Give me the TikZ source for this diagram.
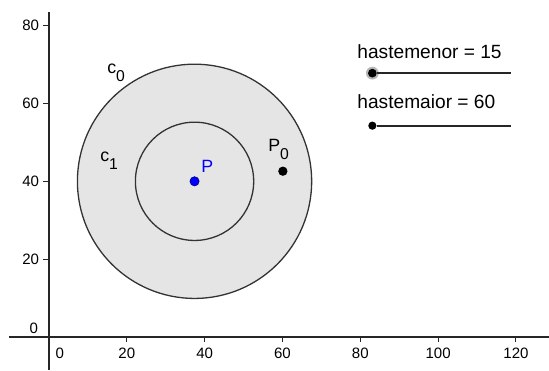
\documentclass[tikz,border=0pt]{standalone}
\usepackage{fontspec}
\setmainfont{Liberation Sans}
\usepackage{tikz}

\definecolor{diskfill}{HTML}{E5E5E5}
\definecolor{ptblue}{HTML}{0000FF}
\definecolor{linegray}{HTML}{333333}

% letter with a lowered index, as in c0, P0
\newcommand{\lblsub}[2]{#1\raisebox{-0.42em}{\fontsize{11.5}{12}\selectfont #2}}

\begin{document}
\begin{tikzpicture}[
  x=0.1cm, y=0.1cm,
  axis/.style={line width=0.9pt, black!85},
  tick/.style={line width=0.8pt, black!85},
  ticklbl/.style={font=\fontsize{11}{13}\selectfont, inner sep=0pt},
  circ/.style={draw=linegray, line width=0.95pt},
  dot/.style={circle, inner sep=0pt, minimum size=6.8pt},
  lbl/.style={font=\fontsize{13}{15}\selectfont, inner sep=0pt, anchor=base west},
  sliderlbl/.style={font=\fontsize{14}{16}\selectfont, inner sep=0pt, anchor=base west},
  slider/.style={line width=1.3pt, black!85}
]
\useasboundingbox (-12.6,-8.5) rectangle (128.5,86.6);

% axes
\draw[axis] (-10.3,0) -- (128.5,0);
\draw[axis] (0,83.5) -- (0,-8.5);
\foreach \x in {20,40,...,120} {
  \draw[tick] (\x,0) -- (\x,-1.2);
  \node[ticklbl, anchor=base] at (\x,-5.5) {\x};
}
\node[ticklbl, anchor=base] at (2.8,-5.5) {0};
\foreach \y in {20,40,60,80} {
  \draw[tick] (0,\y) -- (-1.5,\y);
  \node[ticklbl, anchor=east] at (-2.5,\y) {\y};
}
\node[ticklbl, anchor=east] at (-2.75,2.3) {0};

% circles c0 and c1
\coordinate (ctr) at (37.4,40);
\draw[circ, fill=diskfill] (ctr) circle (30.1);
\draw[circ] (ctr) circle (15.2);

% points
\node[dot, fill=ptblue, draw=blue!45!black, line width=0.4pt] (P) at (ctr) {};
\node[dot, fill=black] (P0) at (60.1,42.6) {};

% labels
\node[lbl] (lc0) at (14.9,67.6) {\lblsub{c}{0}};
\node[lbl] (lc1) at (13.1,45.0) {\lblsub{c}{1}};
\node[lbl, text=ptblue] (lP) at (39.1,42.2) {P};
\node[lbl] (lP0) at (56.3,47.6) {\lblsub{P}{0}};

% sliders
\node[sliderlbl] (tmenor) at (79.2,71.6) {hastemenor = 15};
\node[sliderlbl] (tmaior) at (79.2,58.6) {hastemaior = 60};
\coordinate (emenor) at (118.8,67.8);
\coordinate (emaior) at (118.8,54.3);
\fill[black!40, opacity=0.7] (83.1,67.8) circle (1.65);
\node[dot, fill=black, minimum size=6.4pt] (smenor) at (83.1,67.8) {};
\node[dot, fill=black, minimum size=6pt] (smaior) at (83.1,54.3) {};
\draw[slider] (smenor) -- (emenor);
\draw[slider] (smaior) -- (emaior);

\end{tikzpicture}
\end{document}
